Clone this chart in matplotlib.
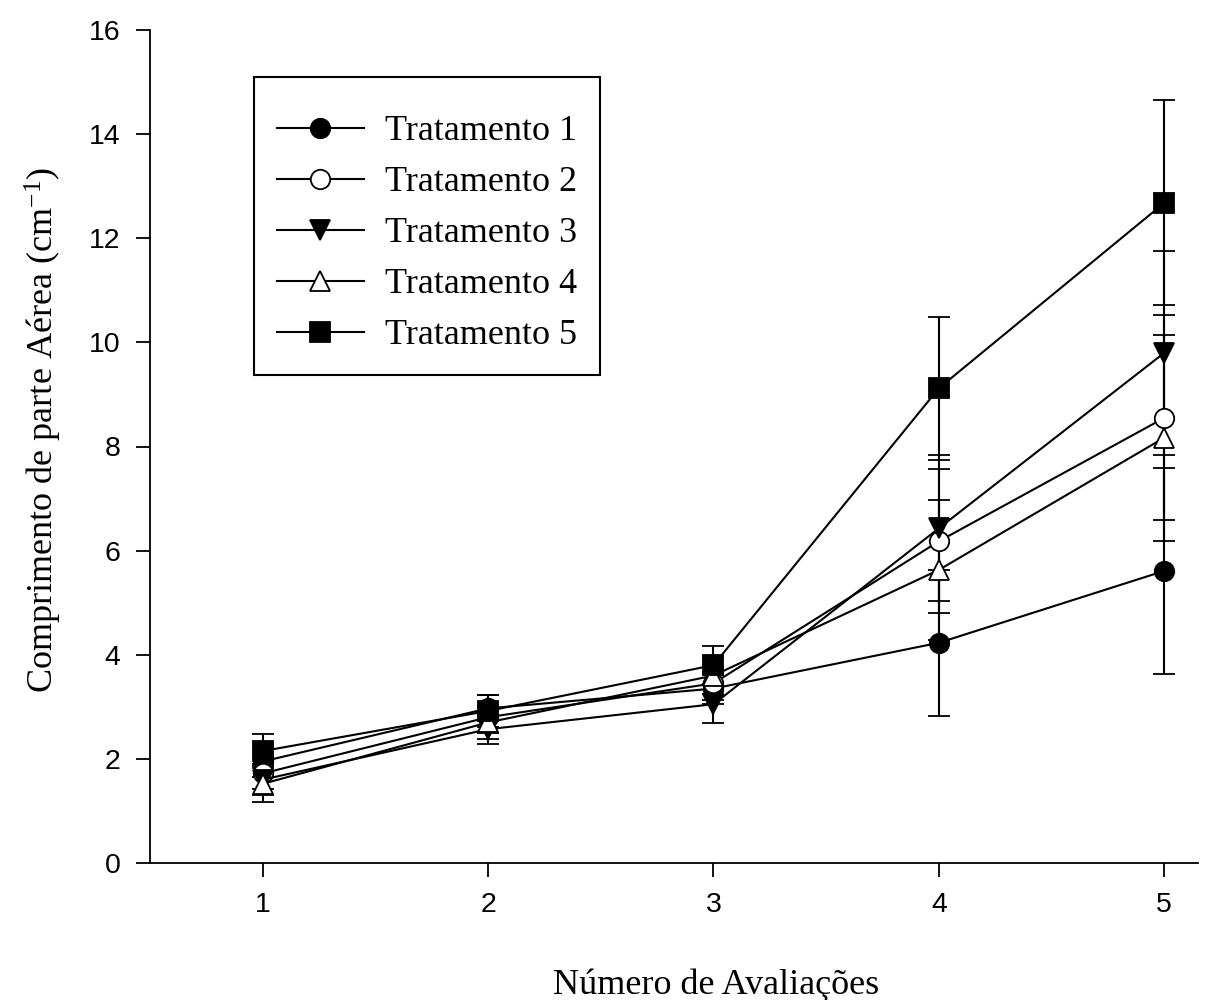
import numpy as np
import matplotlib
matplotlib.use('Agg')
import matplotlib.pyplot as plt
from matplotlib.patches import Rectangle

# data
avaliacoes = [1, 2, 3, 4, 5]
trat1 = [1.95, 2.97, 3.35, 4.23, 5.61]
trat2 = [1.72, 2.80, 3.45, 6.18, 8.55]
trat3 = [1.60, 2.57, 3.05, 6.43, 9.80]
trat4 = [1.52, 2.70, 3.60, 5.63, 8.17]
trat5 = [2.15, 2.92, 3.80, 9.12, 12.68]
err1 = [0.30, 0.25, 0.30, 1.40, 1.98]
err2 = [0.30, 0.30, 0.32, 1.38, 1.97]
err3 = [0.30, 0.28, 0.37, 1.40, 1.96]
err4 = [0.35, 0.32, 0.35, 1.34, 1.98]
err5 = [0.33, 0.30, 0.37, 1.37, 1.97]
nomes = ['Tratamento 1', 'Tratamento 2', 'Tratamento 3', 'Tratamento 4', 'Tratamento 5']

plt.rcParams['mathtext.fontset'] = 'custom'
plt.rcParams['mathtext.rm'] = 'Liberation Serif'
plt.rcParams['mathtext.it'] = 'Liberation Serif:italic'

fig = plt.figure(figsize=(12.09, 10), dpi=100)
ax = fig.add_axes([0.124, 0.137, 0.867, 0.833])

series = [(trat1, err1, 'o', 'k'), (trat2, err2, 'o', 'w'), (trat3, err3, 'v', 'k'),
          (trat4, err4, '^', 'w'), (trat5, err5, 's', 'k')]
for (y, e, m, fc), nome in zip(series, nomes):
    ax.errorbar(avaliacoes, y, yerr=e, color='k', lw=1.5, marker=m, mfc=fc, mec='k',
                mew=1.3, ms=14, capsize=8, capthick=1.5, elinewidth=1.5, label=nome)

ax.set_xlim(0.5, 5.15)
ax.set_ylim(0, 16)
ax.set_xticks(avaliacoes)
ax.set_yticks(np.arange(0, 17, 2))
ax.spines['top'].set_visible(False)
ax.spines['right'].set_visible(False)
for s in ['left', 'bottom']:
    ax.spines[s].set_linewidth(1.3)
ax.tick_params(direction='out', length=10, width=1.3, labelsize=20.5, pad=11)
for lab in ax.get_xticklabels() + ax.get_yticklabels():
    lab.set_fontfamily('Liberation Sans')

ax.set_xlabel('Número de Avaliações', fontfamily='Liberation Serif', fontsize=26, labelpad=36)
ax.xaxis.label.set_x(0.54)
ax.set_ylabel('Comprimento de parte Aérea (cm$^{-1}$)', fontfamily='Liberation Serif',
              fontsize=26, labelpad=18)
ax.yaxis.label.set_y(0.52)

# legend box drawn by hand (taller padding than matplotlib's frame)
ax.add_patch(Rectangle((0.0992, 0.5858), 0.3302, 0.3578, transform=ax.transAxes,
                       fc='white', ec='k', lw=1.5, zorder=4))
handles, labels = ax.get_legend_handles_labels()
handles = [h[0] for h in handles]
leg = ax.legend(handles, labels, loc='upper left', bbox_to_anchor=(0.099, 0.926),
                borderaxespad=0, prop={'family': 'Liberation Serif', 'size': 26},
                frameon=False, handlelength=2.4,
                borderpad=0.65, labelspacing=0.49, handletextpad=0.6)
leg.set_zorder(5)

plt.savefig('out.png', dpi=100)
plt.close()
